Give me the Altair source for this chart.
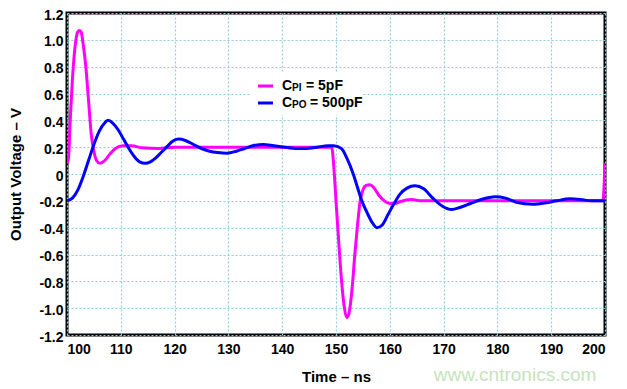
import altair as alt
import pandas as pd

# C_PI = 5pF (magenta)
t_pi = [100, 100.2, 100.6, 101, 101.5, 102, 102.3, 102.6, 103, 103.5, 104, 104.5, 105, 105.5, 106.1,
        107, 108, 109, 110.4, 112, 114, 117, 120, 130, 140, 149.2, 149.6, 150, 150.5, 151, 151.5,
        152, 152.4, 153, 153.5, 154, 154.5, 155, 155.6, 156.3, 157, 158, 159, 160, 161, 162, 164,
        166, 170, 180, 190, 199.6, 200]
v_pi = [0.09, 0.09, 0.4, 0.7, 0.95, 1.06, 1.07, 1.06, 0.97, 0.8, 0.55, 0.3, 0.17, 0.1, 0.08,
        0.1, 0.15, 0.19, 0.21, 0.21, 0.195, 0.19, 0.2, 0.2, 0.2, 0.2, 0.05, -0.2, -0.5, -0.78, -0.98,
        -1.07, -1.04, -0.85, -0.6, -0.38, -0.2, -0.12, -0.085, -0.08, -0.1, -0.16, -0.2, -0.22, -0.22, -0.205, -0.19,
        -0.2, -0.2, -0.2, -0.2, -0.2, 0.08]

# C_PO = 500pF (blue)
t_po = [100, 101, 102, 103, 104, 105, 106, 107, 107.6, 108.5, 109.5, 110.5, 111.5, 112.5, 113.5,
        114.5, 115.5, 116.5, 117.5, 118.5, 119.5, 120.7, 122, 123.5, 125, 126.5, 128, 129.7, 131.5,
        133, 134.5, 136.5, 138.5, 140.5, 142.5, 144.5, 146.5, 148.5, 149.5, 151, 152, 153.2, 154,
        154.8, 155.8, 156.7, 157.6, 158.6, 159.7, 160.8, 161.9, 163.2, 164.7, 166.3, 168, 169.8,
        171.5, 173, 175, 177, 179.6, 181.5, 183.5, 186.6, 189, 191, 193.5, 195.5, 197.5, 200]
v_po = [-0.2, -0.18, -0.12, -0.02, 0.1, 0.22, 0.32, 0.38, 0.4, 0.38, 0.33, 0.26, 0.19, 0.13, 0.09,
        0.08, 0.09, 0.12, 0.16, 0.2, 0.24, 0.26, 0.25, 0.22, 0.19, 0.17, 0.16, 0.155, 0.17,
        0.19, 0.21, 0.22, 0.21, 0.2, 0.19, 0.19, 0.2, 0.21, 0.21, 0.19, 0.12, 0.0, -0.1,
        -0.2, -0.29, -0.36, -0.4, -0.38, -0.3, -0.22, -0.15, -0.105, -0.088, -0.11, -0.18, -0.24,
        -0.265, -0.25, -0.22, -0.19, -0.17, -0.18, -0.21, -0.225, -0.215, -0.2, -0.185, -0.19, -0.2, -0.2]

series = ["CPI", "CPO"]
colors = ["#ff00ff", "#0000ff"]
x_ticks = list(range(100, 201, 10))
y_ticks = [round(-1.2 + 0.2 * i, 1) for i in range(13)]

df = pd.concat([
    pd.DataFrame({"t": t_pi, "v": v_pi, "s": series[0]}),
    pd.DataFrame({"t": t_po, "v": v_po, "s": series[1]}),
])

FONT = "Liberation Sans"
W, H = 538, 322

lines = alt.Chart(df).mark_line(strokeWidth=3, interpolate="monotone", clip=True).encode(
    x=alt.X("t:Q", scale=alt.Scale(domain=[100, 200], nice=False),
            axis=alt.Axis(values=x_ticks, title="Time – ns", titleX=W / 2, titleY=41,
                          titleBaseline="middle", labelPadding=7)),
    y=alt.Y("v:Q", scale=alt.Scale(domain=[-1.2, 1.2], nice=False),
            axis=alt.Axis(values=y_ticks, title="Output Voltage – V", titleX=-52, titleY=H / 2,
                          titleAngle=-90, titleBaseline="middle", labelPadding=4, labelOffset=2,
                          labelExpr="datum.value == 0 ? '0' : replace(format(datum.value, '.1f'), '−', '-')")),
    color=alt.Color("s:N", scale=alt.Scale(domain=series, range=colors), legend=None),
)

one = pd.DataFrame({"k": [0]})

def txt(s, x, y, size, align="left", color="black", weight="bold"):
    return alt.Chart(one).mark_text(text=s, align=align, baseline="middle", fontSize=size,
                                    font=FONT, fontWeight=weight, color=color).encode(
        x=alt.value(x), y=alt.value(y))

box = alt.Chart(one).mark_rect(color="white").encode(
    x=alt.value(183), x2=alt.value(296), y=alt.value(59), y2=alt.value(102))

leg1 = alt.Chart(one).mark_rule(color=colors[0], strokeWidth=3).encode(
    x=alt.value(191), x2=alt.value(206), y=alt.value(73))
leg2 = alt.Chart(one).mark_rule(color=colors[1], strokeWidth=3).encode(
    x=alt.value(191), x2=alt.value(206), y=alt.value(90))

texts = [
    txt("C", 215, 73, 14), txt("PI", 225, 75, 10), txt("= 5pF", 239, 73, 14),
    txt("C", 215, 90, 14), txt("PO", 225, 92, 10), txt("= 500pF", 243, 90, 14),
    txt("www.cntronics.com", 448, 362, 19, align="center", color="#c6e3bd", weight="normal"),
]

chart = alt.layer(box, lines, leg1, leg2, *texts).properties(
    width=W, height=H,
    autosize=alt.AutoSizeParams(type="none"),
    padding={"left": 59, "top": 5, "right": 8, "bottom": 52},
    background="white",
).configure_view(
    stroke="black", strokeWidth=3
).configure_axis(
    domain=False, ticks=False, grid=True,
    gridColor="#8fcfe0", gridDash=[2, 2], gridWidth=1.2,
    labelFont=FONT, labelFontSize=14, labelFontWeight="bold", labelColor="black",
    titleFont=FONT, titleFontSize=15, titleFontWeight="bold", titleColor="black",
)

chart.save("out.html", embed_options={"renderer": "svg", "actions": False})
